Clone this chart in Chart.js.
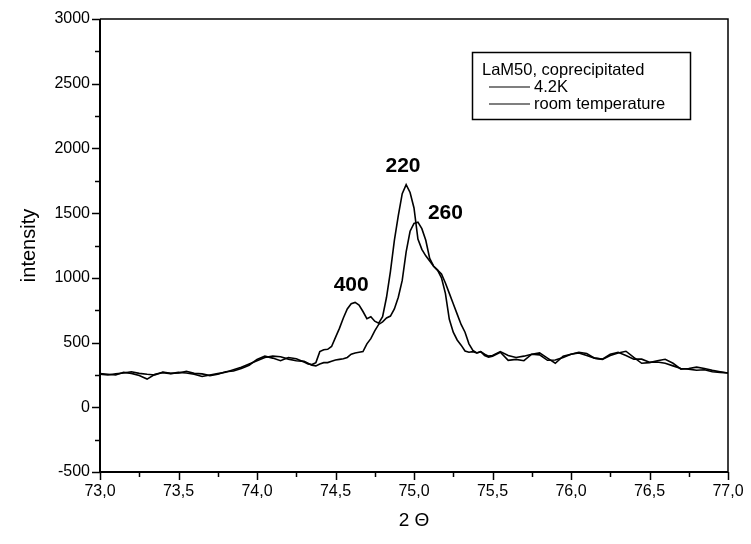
<!DOCTYPE html>
<html>
<head>
<meta charset="utf-8">
<script src="https://cdn.jsdelivr.net/npm/chart.js@4.4.0/dist/chart.umd.min.js"></script>
<style>
  html, body { margin: 0; padding: 0; background: #fff; }
  #wrap { width: 751px; height: 544px; }
</style>
</head>
<body>
<div id="wrap"><canvas id="myChart" width="751" height="544"></canvas></div>
<script>
// 2 theta positions (deg)
const twoTheta = [
  73.00, 73.05, 73.10, 73.15, 73.20, 73.25, 73.30, 73.35, 73.40, 73.45,
  73.50, 73.55, 73.60, 73.65, 73.70, 73.75, 73.80, 73.85, 73.90, 73.95,
  74.00, 74.05, 74.10, 74.15, 74.20, 74.25,
  74.300, 74.325, 74.350, 74.375, 74.400, 74.425, 74.450, 74.475, 74.500, 74.525,
  74.550, 74.575, 74.600, 74.625, 74.650, 74.675, 74.700, 74.725, 74.750, 74.775,
  74.800, 74.825, 74.850, 74.875, 74.900, 74.925, 74.950, 74.975, 75.000, 75.025,
  75.050, 75.075, 75.100, 75.125, 75.150, 75.175, 75.200, 75.225, 75.250, 75.275,
  75.300, 75.325, 75.350, 75.375, 75.400, 75.425, 75.450, 75.475,
  75.50, 75.55, 75.60, 75.65, 75.70, 75.75, 75.80, 75.85, 75.90, 75.95,
  76.00, 76.05, 76.10, 76.15, 76.20, 76.25, 76.30, 76.35, 76.40, 76.45,
  76.50, 76.55, 76.60, 76.65, 76.70, 76.75, 76.80, 76.85, 76.90, 76.95, 77.00
];

const intensity42K = [
  255, 250, 258, 265, 275, 262, 255, 250, 272, 262,
  265, 278, 262, 258, 245, 255, 275, 280, 300, 325,
  370, 395, 380, 360, 385, 375,
  350, 335, 330, 345, 430, 445, 448, 470, 540, 610,
  690, 760, 800, 810, 790, 740, 685, 700, 665, 650,
  700, 850, 1050, 1290, 1480, 1650, 1720, 1660, 1540, 1300,
  1220, 1170, 1130, 1090, 1060, 1000, 880, 680, 580, 520,
  480, 435, 425, 430, 420, 430, 410, 395,
  400, 430, 400, 385, 395, 410, 420, 380, 340, 395,
  410, 425, 415, 380, 372, 410, 425, 400, 372, 372,
  348, 350, 340, 320, 300, 295, 286, 290, 275, 270, 265
];

const intensityRoom = [
  260, 255, 250, 270, 262, 245, 218, 255, 268, 260,
  270, 265, 255, 238, 250, 260, 270, 290, 310, 335,
  360, 385, 395, 390, 372, 360,
  355, 340, 325, 320, 335, 345, 345, 355, 365, 370,
  375, 385, 410, 420, 425, 430, 490, 530, 590, 640,
  660, 690, 705, 760, 850, 980, 1200, 1360, 1420, 1430,
  1380, 1290, 1150, 1090, 1060, 1030, 960, 880, 800, 720,
  640, 580, 490, 440, 420, 430, 400, 388,
  395, 425, 363, 370, 360, 410, 405, 363, 365, 385,
  410, 420, 400, 380, 370, 400, 420, 433, 385, 340,
  345, 360, 371, 340, 295, 300, 310, 300, 285, 275, 265
];

const seriesNames = ["4.2K", "room temperature"];
const legendTitle = "LaM50, coprecipitated";

// reflex labels: [2theta, intensity, text]
const peakLabels = [
  [74.60, 940, "400"],
  [74.93, 1860, "220"],
  [75.20, 1500, "260"]
];

const FONT = "'Liberation Sans', Arial, sans-serif";

function toXY(xs, ys) {
  return xs.map((x, i) => ({ x: x, y: ys[i] }));
}

// frame, minor/major ticks, legend box and peak labels
const decorPlugin = {
  id: "decor",
  afterDraw(chart) {
    const c = chart.ctx;
    const a = chart.chartArea;
    const xs = chart.scales.x;
    const ys = chart.scales.y;
    c.save();
    c.strokeStyle = "#000";

    // frame
    c.lineWidth = 1.5;
    c.beginPath();
    c.moveTo(a.left, a.top);
    c.lineTo(a.right, a.top);
    c.lineTo(a.right, a.bottom);
    c.stroke();
    c.lineWidth = 2;
    c.beginPath();
    c.moveTo(a.left, a.top);
    c.lineTo(a.left, a.bottom);
    c.lineTo(a.right, a.bottom);
    c.stroke();

    // y ticks
    c.lineWidth = 1.5;
    for (let v = -500; v <= 3000; v += 250) {
      const py = Math.round(ys.getPixelForValue(v)) + 0.5;
      const len = v % 500 === 0 ? 8 : 5;
      c.beginPath();
      c.moveTo(a.left - len, py);
      c.lineTo(a.left, py);
      c.stroke();
    }
    // x ticks
    for (let k = 0; k <= 16; k++) {
      const v = 73 + k * 0.25;
      const px = Math.round(xs.getPixelForValue(v)) + 0.5;
      const len = k % 2 === 0 ? 8 : 5;
      c.beginPath();
      c.moveTo(px, a.bottom);
      c.lineTo(px, a.bottom + len);
      c.stroke();
    }

    // peak labels
    c.fillStyle = "#000";
    c.font = "bold 21px " + FONT;
    c.textAlign = "center";
    c.textBaseline = "middle";
    peakLabels.forEach((p) => {
      c.fillText(p[2], xs.getPixelForValue(p[0]), ys.getPixelForValue(p[1]));
    });

    // legend box
    c.lineWidth = 1.5;
    c.strokeRect(472.5, 52.5, 218, 67);
    c.font = "16.5px " + FONT;
    c.textAlign = "left";
    c.fillText(legendTitle, 482, 70);
    c.lineWidth = 1.2;
    [87, 104].forEach((yy, i) => {
      c.beginPath();
      c.moveTo(489, yy);
      c.lineTo(530, yy);
      c.stroke();
      c.fillText(seriesNames[i], 534, yy);
    });
    c.restore();
  }
};

const ctx = document.getElementById("myChart").getContext("2d");
const myChart = new Chart(ctx, {
  type: "line",
  data: {
    datasets: [
      {
        label: seriesNames[0],
        data: toXY(twoTheta, intensity42K),
        borderColor: "#000",
        borderWidth: 1.6,
        pointRadius: 0,
        tension: 0,
        fill: false,
      },
      {
        label: seriesNames[1],
        data: toXY(twoTheta, intensityRoom),
        borderColor: "#000",
        borderWidth: 1.6,
        pointRadius: 0,
        tension: 0,
        fill: false,
      },
    ],
  },
  options: {
    responsive: false,
    animation: false,
    layout: { padding: { left: 0, right: 23, top: 19, bottom: 0 } },
    plugins: {
      legend: { display: false },
      tooltip: { enabled: false },
    },
    scales: {
      x: {
        type: "linear",
        min: 73,
        max: 77,
        afterFit: (scale) => {
          scale.height = 72;
          scale.paddingLeft = 0;
          scale.paddingRight = 0;
        },
        grid: { display: false, drawTicks: false },
        border: { display: false },
        ticks: {
          stepSize: 0.5,
          padding: 10,
          color: "#000",
          maxRotation: 0,
          font: { family: FONT, size: 16 },
          callback: (v) => Number(v).toFixed(1).replace(".", ","),
        },
        title: {
          display: true,
          text: "2 Θ",
          color: "#000",
          font: { family: FONT, size: 19 },
          padding: { top: 0, bottom: 12 },
        },
      },
      y: {
        min: -500,
        max: 3000,
        afterFit: (scale) => {
          scale.width = 100;
          scale.paddingTop = 0;
          scale.paddingBottom = 0;
        },
        grid: { display: false, drawTicks: false },
        border: { display: false },
        ticks: {
          stepSize: 500,
          padding: 10,
          color: "#000",
          font: { family: FONT, size: 16 },
          callback: (v) => String(v),
        },
        title: {
          display: true,
          text: "intensity",
          color: "#000",
          font: { family: FONT, size: 20 },
          padding: { top: 17, bottom: 0 },
        },
      },
    },
  },
  plugins: [decorPlugin],
});
</script>
</body>
</html>
